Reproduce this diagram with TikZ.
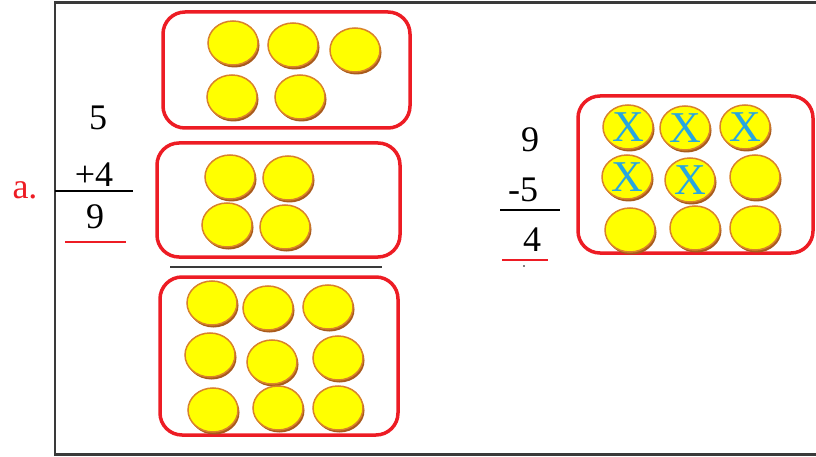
\documentclass[tikz,border=0pt]{standalone}
\usepackage{fontspec}
\setmainfont{Liberation Serif}
\usetikzlibrary{shapes.geometric,shadows}
\definecolor{boxred}{HTML}{ED1C24}
\definecolor{coinyel}{HTML}{FFFF00}
\definecolor{coinedge}{HTML}{D9822B}
\definecolor{coinshade}{HTML}{A85A1C}
\definecolor{xblue}{HTML}{27A6E0}
\definecolor{framegray}{HTML}{3A3A3A}
\tikzset{
  coin/.style={ellipse, minimum width=50pt, minimum height=44pt, inner sep=0pt,
    fill=coinyel, draw=coinedge, line width=1.5pt,
    drop shadow={shadow xshift=1.5pt, shadow yshift=-2.5pt, fill=coinshade, opacity=1}},
  xcoin/.style={coin, text=xblue, font=\fontsize{44}{44}\selectfont},
  redbox/.style={draw=boxred, line width=3.5pt, rounded corners=22pt},
  num/.style={font=\fontsize{36}{40}\selectfont, inner sep=0pt},
  rule/.style={line width=1.5pt, black},
  redrule/.style={line width=1.2pt, boxred},
}
\begin{document}
\begin{tikzpicture}[x=1pt,y=-1pt]
\useasboundingbox (0,0) rectangle (816,457);
% frame
\draw[framegray, line width=2.5pt] (816,2.5) -- (55,2.5) -- (55,454.5) -- (816,454.5);
% left labels
\node[num, text=boxred] (a) at (25,190) {a.};
\node[num] (n5) at (98,118) {5};
\node[num] (n4) at (94,175) {+4};
\node[num] (n9) at (95,217) {9};
\coordinate (l1s) at (55,191);
\coordinate (l1e) at (133,191);
\draw[rule] (l1s) -- (l1e);
\coordinate (r1s) at (65,242);
\coordinate (r1e) at (126,242);
\draw[redrule] (r1s) -- (r1e);
% box 1
\node[redbox, minimum width=247pt, minimum height=116pt] (b1) at (286.5,70) {};
\node[coin] (c11) at (233,43) {};
\node[coin] (c12) at (293,45) {};
\node[coin] (c13) at (355,50) {};
\node[coin] (c14) at (232,97) {};
\node[coin] (c15) at (300,97) {};
% box 2
\node[redbox, minimum width=243pt, minimum height=114pt] (b2) at (278.5,200) {};
\node[coin] (c21) at (230,177) {};
\node[coin] (c22) at (288,178) {};
\node[coin] (c23) at (227,225) {};
\node[coin] (c24) at (285,227) {};
% separating line
\coordinate (l2s) at (170,267);
\coordinate (l2e) at (382,267);
\draw[rule, framegray] (l2s) -- (l2e);
% box 3
\node[redbox, minimum width=238pt, minimum height=158pt] (b3) at (279,356) {};
\node[coin] (c31) at (212,303) {};
\node[coin] (c32) at (268,308) {};
\node[coin] (c33) at (328,307) {};
\node[coin] (c34) at (210,355) {};
\node[coin] (c35) at (272,362) {};
\node[coin] (c36) at (338,358) {};
\node[coin] (c37) at (213,410) {};
\node[coin] (c38) at (278,408) {};
\node[coin] (c39) at (338,408) {};
% right subtraction
\node[num] (m9) at (530,140) {9};
\node[num] (m5) at (523,190) {-5};
\node[num] (m4) at (532,240) {4};
\coordinate (l3s) at (500,210);
\coordinate (l3e) at (560,210);
\draw[rule] (l3s) -- (l3e);
\coordinate (r3s) at (502,260);
\coordinate (r3e) at (548,260);
\draw[redrule] (r3s) -- (r3e);
\node[fill=black, circle, inner sep=0.6pt] (dot) at (524,266) {};
% box 4
\node[redbox, minimum width=235pt, minimum height=157pt] (b4) at (695.5,174.5) {};
\node[xcoin] (c41) at (628,127) {X};
\node[xcoin] (c42) at (685,128) {X};
\node[xcoin] (c43) at (745,127) {X};
\node[xcoin] (c44) at (627,177) {X};
\node[xcoin] (c45) at (690,180) {X};
\node[coin] (c46) at (755,177) {};
\node[coin] (c47) at (630,230) {};
\node[coin] (c48) at (695,228) {};
\node[coin] (c49) at (755,228) {};
\end{tikzpicture}
\end{document}
